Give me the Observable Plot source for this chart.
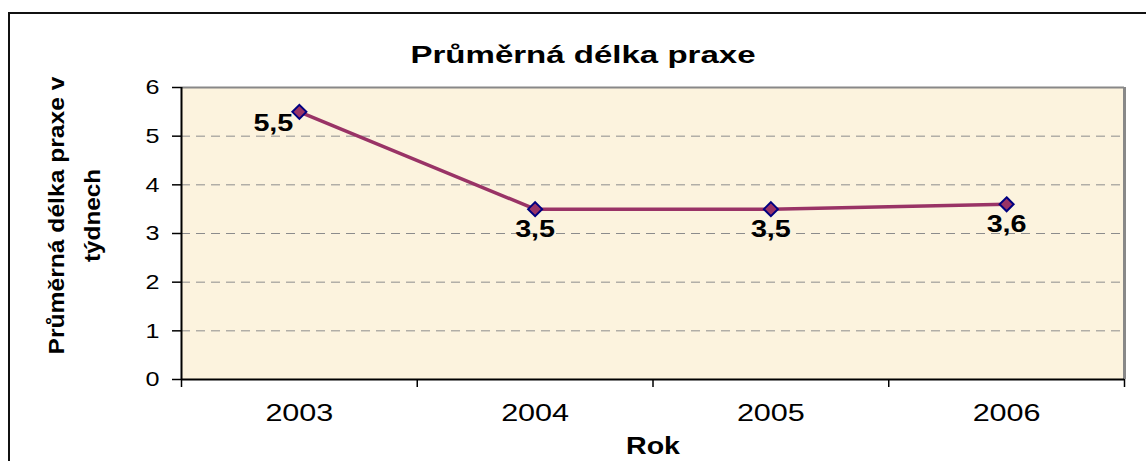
<!DOCTYPE html>
<html><head><meta charset="utf-8">
<script src="https://cdn.jsdelivr.net/npm/d3@7"></script>
<script src="https://cdn.jsdelivr.net/npm/@observablehq/plot@0.6"></script>
<style>
html,body{margin:0;padding:0;background:#fff;overflow:hidden;}
#wrap{position:relative;width:1146px;height:461px;overflow:hidden;}
#box{position:absolute;left:8px;top:12px;width:2000px;height:1000px;border-top:2px solid #111;border-left:2px solid #111;}
#chart{position:absolute;left:0;top:0;}
</style></head><body>
<div id="wrap"><div id="box"></div><div id="chart"></div></div>
<script>
const years = [2003, 2004, 2005, 2006];
const values = [5.5, 3.5, 3.5, 3.6];
const yTicks = [0, 1, 2, 3, 4, 5, 6];
const title = "Průměrná délka praxe";
const xLabel = "Rok";
const yLabelLines = ["Průměrná délka praxe v", "týdnech"];

const data = years.map((year, i) => ({year, value: values[i]}));
const fmt = v => v.toFixed(1).replace(".", ",");
const boundaries = [...years.map(y => y - 0.5), years[years.length - 1] + 0.5];
const diamond = {draw(ctx, size) {
  const r = Math.sqrt(size / Math.PI);
  ctx.moveTo(0, -r); ctx.lineTo(r, 0); ctx.lineTo(0, r); ctx.lineTo(-r, 0); ctx.closePath();
}};
const bold = {fontWeight: "bold"};

const chart = Plot.plot({
  width: 1146, height: 461,
  marginLeft: 181, marginRight: 22, marginTop: 87, marginBottom: 82,
  style: {fontFamily: "'Liberation Sans', Arial, sans-serif", background: "transparent", color: "#000"},
  x: {domain: [boundaries[0], boundaries[boundaries.length - 1]]},
  y: {domain: [0, 6]},
  marks: [
    Plot.frame({fill: "#FCF3DE", stroke: null}),
    Plot.ruleY(yTicks.slice(1, -1), {stroke: "#8c8c8c", strokeWidth: 1, strokeDasharray: "9,6"}),
    Plot.ruleY([6], {stroke: "#888", strokeWidth: 2}),
    Plot.ruleX([boundaries[boundaries.length - 1]], {stroke: "#888", strokeWidth: 3}),
    Plot.ruleX([boundaries[0]], {stroke: "#000", strokeWidth: 2}),
    Plot.ruleY([0], {stroke: "#000", strokeWidth: 2}),
    Plot.axisY(yTicks, {tickSize: 9, tickPadding: 13, label: null, strokeWidth: 1.5}),
    Plot.axisX(boundaries, {tickSize: 8, tickFormat: () => "", label: null, strokeWidth: 1.5}),
    Plot.axisX(years, {tickSize: 0, tickPadding: 25, tickFormat: d => String(d), label: null}),
    Plot.line(data, {x: "year", y: "value", stroke: "#993366", strokeWidth: 3.5}),
    Plot.dot(data, {x: "year", y: "value", symbol: diamond, r: 7, fill: "#993366", stroke: "#000080", strokeWidth: 2}),
    Plot.text(data.slice(0, 1), {x: "year", y: "value", text: d => fmt(d.value), textAnchor: "end", dx: -6, dy: 11, fontSize: 24, ...bold}),
    Plot.text(data.slice(1), {x: "year", y: "value", text: d => fmt(d.value), dy: 20, fontSize: 24, ...bold}),
    Plot.text([title], {text: d => d, frameAnchor: "top", dx: -70, dy: -42, fontSize: 24, ...bold}),
    Plot.text([xLabel], {text: d => d, frameAnchor: "bottom", dy: 74, fontSize: 23, ...bold}),
    Plot.text([yLabelLines[0]], {text: d => d, frameAnchor: "left", textAnchor: "middle", rotate: -90, dx: -125, dy: -18, fontSize: 22, ...bold}),
    Plot.text([yLabelLines[1]], {text: d => d, frameAnchor: "left", textAnchor: "middle", rotate: -90, dx: -88.5, dy: -18, fontSize: 22, ...bold})
  ]
});
document.getElementById("chart").appendChild(chart);

// axis tick label font sizes
const yTickText = new Set(yTicks.map(String));
const xTickText = new Set(years.map(String));
d3.select(chart).selectAll("text").each(function() {
  const t = this.textContent;
  if (yTickText.has(t)) this.style.fontSize = "21px";
  if (xTickText.has(t)) this.style.fontSize = "23px";
});

// stretch texts to the widths seen in the reference
const textWidths = new Map([
  ...yTicks.map(t => [String(t), 14]),
  ["2003", 68], ["2004", 68], ["2005", 68], ["2006", 68],
  ["5,5", 40], ["3,5", 40], ["3,6", 40],
  [title, 345], [xLabel, 54], [yLabelLines[0], 278], [yLabelLines[1], 93]
]);
d3.select(chart).selectAll("text").each(function() {
  const t = this.textContent;
  getComputedStyle(this).fontSize;
  this.getBBox();
  if (textWidths.has(t)) {
    this.setAttribute("textLength", textWidths.get(t));
    this.setAttribute("lengthAdjust", "spacingAndGlyphs");
  }
});
</script>
</body></html>
